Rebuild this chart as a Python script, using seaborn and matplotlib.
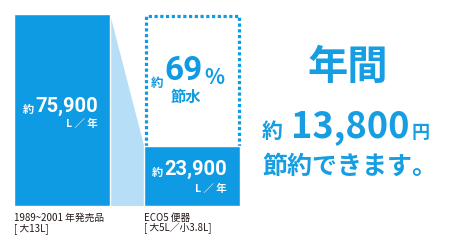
import matplotlib
matplotlib.use("Agg")
import matplotlib.pyplot as plt
from matplotlib import font_manager
from matplotlib.patches import Polygon
import seaborn as sns
import pandas as pd

# ---- data ----
categories = ["1989~2001 年発売品\n[ 大13L]", "ECO5 便器\n[ 大5L／小3.8L]"]
values = [75900, 23900]
value_labels = ["75,900", "23,900"]
unit_label = "L ／ 年"
saving_pct = "69"
saving_text = "節水"
headline = "年間"
yen_value = "13,800"
yen_unit = "円"
closing = "節約できます。"

BLUE = "#0f9be3"
LIGHT = "#b6dff7"
TEXT_BLUE = "#179ee2"
DARK = "#231815"

sns.set_theme(style="white")
names = {f.name for f in font_manager.fontManager.ttflist}
NARROW = "Liberation Sans Narrow" if "Liberation Sans Narrow" in names else "Roboto"
CJK = "Noto Sans CJK JP"
plt.rcParams["font.family"] = [CJK, "DejaVu Sans"]

W, H = 460, 245
fig = plt.figure(figsize=(4.6, 2.45), dpi=100)
ax = fig.add_axes([0, 0, 1, 1])

df = pd.DataFrame({"cat": categories, "val": values})
bw = 96 / 130
sns.barplot(data=df, x="cat", y="val", width=bw, color=BLUE, saturation=1,
            errorbar=None, ax=ax, zorder=3)
# map pixels: x=0 at px 62, 1 unit = 130 px ; y=0 at px 206 (from top), 75900 at px 14
ux = 130.0
uy = values[0] / 192.0
ax.set_xlim(-62 / ux, (W - 62) / ux)
ax.set_ylim(-(H - 206) * uy, values[0] + 14 * uy)
ax.axis("off")

p0, p1 = ax.patches[0], ax.patches[1]
x0r = p0.get_x() + p0.get_width()
x1l = p1.get_x()
x1r = p1.get_x() + p1.get_width()
h0, h1 = p0.get_height(), p1.get_height()

# connector
ax.add_patch(Polygon([(x0r, h0), (x1l, h1), (x1l, 0), (x0r, 0)],
                     closed=True, facecolor=LIGHT, edgecolor="none", zorder=1))
# dotted box
off = 1.5 * uy
offx = 1.5 / ux
ax.plot([x1l + offx, x1l + offx, x1r - offx, x1r - offx],
        [h1, h0 - off, h0 - off, h1], color=BLUE, lw=2.3,
        linestyle=(0, (1, 0.8)), solid_capstyle="butt", dash_capstyle="butt", zorder=2)


def fx(px):
    return px / W


def fy(py):
    return 1 - py / H


NUMFONT = [NARROW, "DejaVu Sans"]
nsize = 17 if NARROW != "Roboto" else 14.5
bigsize = 27 if NARROW != "Roboto" else 24

# bar value labels
for (xr, yb, yu), lab in zip([(98, 112, 127), (227, 175, 192)], value_labels):
    t = fig.text(fx(xr), fy(yb), lab, ha="right", va="baseline", color="white",
                 fontsize=nsize, fontweight="bold", family=NUMFONT)
    ax.annotate("約", xy=(0, 0), xycoords=t, xytext=(-1, 0), textcoords="offset points",
                ha="right", va="bottom", color="white", fontsize=8, fontweight="bold")
    fig.text(fx(xr), fy(yu), unit_label, ha="right", va="baseline", color="white",
             fontsize=7.5, fontweight="bold")

# saving text in box
t69 = fig.text(fx(184), fy(80), saving_pct, ha="center", va="baseline", color=BLUE,
               fontsize=bigsize, fontweight="bold", family=NUMFONT)
ax.annotate("約", xy=(0, 0), xycoords=t69, xytext=(-1, -2), textcoords="offset points",
            ha="right", va="bottom", color=BLUE, fontsize=9, fontweight="bold")
ax.annotate("%", xy=(1, 0), xycoords=t69, xytext=(1, -1), textcoords="offset points",
            ha="left", va="bottom", color=BLUE, fontsize=15, fontweight="bold")
fig.text(fx(186), fy(96.5), saving_text, ha="center", va="center", color=BLUE,
         fontsize=11, fontweight="bold")

# category labels
for xl, lab in zip([14, 144], categories):
    l1, l2 = lab.split("\n")
    fig.text(fx(xl), fy(217.5), l1, ha="left", va="center", color=DARK, fontsize=7)
    fig.text(fx(xl), fy(228.5), l2, ha="left", va="center", color=DARK, fontsize=7)

# right headline
fig.text(fx(348), fy(67), headline, ha="center", va="center", color=TEXT_BLUE,
         fontsize=29, fontweight="bold")
ty = fig.text(fx(350), fy(137), yen_value, ha="center", va="baseline", color=TEXT_BLUE,
              fontsize=26, fontweight="bold")
ax.annotate("約", xy=(0, 0), xycoords=ty, xytext=(-6, 2), textcoords="offset points",
            ha="right", va="bottom", color=TEXT_BLUE, fontsize=15, fontweight="bold")
ax.annotate(yen_unit, xy=(1, 0), xycoords=ty, xytext=(2, 2), textcoords="offset points",
            ha="left", va="bottom", color=TEXT_BLUE, fontsize=13, fontweight="bold")
fig.text(fx(350), fy(166.5), closing, ha="center", va="center", color=TEXT_BLUE,
         fontsize=18, fontweight="bold")

fig.savefig("out.png", dpi=100)
